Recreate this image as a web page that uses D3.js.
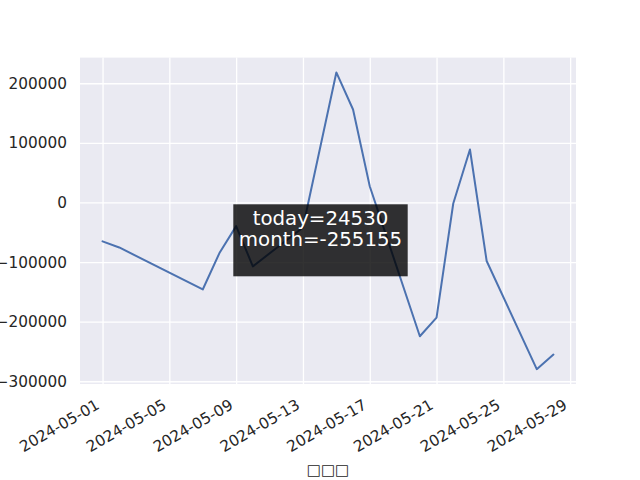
<!DOCTYPE html>
<html>
<head>
<meta charset="utf-8">
<script src="https://cdn.jsdelivr.net/npm/d3@7"></script>
<style>
  body { margin: 0; background: #fff; }
  text { font-family: "DejaVu Sans", sans-serif; }
</style>
</head>
<body>
<script>
const dates = ["2024-05-01","2024-05-02","2024-05-07","2024-05-08","2024-05-09","2024-05-10",
  "2024-05-13","2024-05-15","2024-05-16","2024-05-17","2024-05-20","2024-05-21",
  "2024-05-22","2024-05-23","2024-05-24","2024-05-27","2024-05-28"]
const values = [-65300,-75500,-146000,-84900,-39700,-107200,
  -42100,218100,155900,27200,-224500,-193100,
  -1800,88800,-98200,-279685,-255155]
const xTickLabels = ["2024-05-01","2024-05-05","2024-05-09","2024-05-13","2024-05-17","2024-05-21","2024-05-25","2024-05-29"]
const yTicks = [-300000,-200000,-100000,0,100000,200000]
const noteLines = ["today=24530", "month=-255155"]
const xLabel = "□□□"

const W = 640, H = 480
const m = {left: 80, right: 576, top: 57.6, bottom: 384}

const parse = d3.utcParse("%Y-%m-%d")
const data = dates.map((d, i) => ({date: parse(d), value: values[i]}))

// matplotlib style 5% margins
const xExt = d3.extent(data, d => d.date)
const xPad = (xExt[1] - xExt[0]) * 0.05
const yExt = d3.extent(data, d => d.value)
const yPad = (yExt[1] - yExt[0]) * 0.05

const x = d3.scaleUtc()
  .domain([new Date(+xExt[0] - xPad), new Date(+xExt[1] + xPad)])
  .range([m.left, m.right])

const y = d3.scaleLinear()
  .domain([yExt[0] - yPad, yExt[1] + yPad])
  .range([m.bottom, m.top])

const svg = d3.select("body").append("svg")
  .attr("width", W)
  .attr("height", H)

svg.append("rect")
  .attr("x", m.left).attr("y", m.top)
  .attr("width", m.right - m.left).attr("height", m.bottom - m.top)
  .attr("fill", "#eaeaf2")

const xTicks = xTickLabels.map(parse)

// grid
svg.append("g")
  .attr("transform", `translate(0,${m.bottom})`)
  .call(d3.axisBottom(x).tickValues(xTicks).tickSize(-(m.bottom - m.top)).tickFormat(""))
  .call(g => g.select(".domain").remove())
  .call(g => g.selectAll("line").attr("stroke", "#fff").attr("stroke-width", 1.3))

svg.append("g")
  .attr("transform", `translate(${m.left},0)`)
  .call(d3.axisLeft(y).tickValues(yTicks).tickSize(-(m.right - m.left)).tickFormat(""))
  .call(g => g.select(".domain").remove())
  .call(g => g.selectAll("line").attr("stroke", "#fff").attr("stroke-width", 1.3))

// y tick labels
svg.append("g").selectAll("text")
  .data(yTicks)
  .enter().append("text")
  .attr("x", m.left - 13)
  .attr("y", d => y(d))
  .attr("dy", "0.36em")
  .attr("text-anchor", "end")
  .attr("font-size", "15.3px")
  .attr("fill", "#262626")
  .text(d => d3.format("d")(d))

// x tick labels, rotated 30deg
svg.append("g").selectAll("text")
  .data(xTicks)
  .enter().append("text")
  .attr("transform", d => `translate(${x(d) - 2},${m.bottom + 24}) rotate(-30)`)
  .attr("text-anchor", "end")
  .attr("font-size", "15.3px")
  .attr("fill", "#262626")
  .text(d => d3.utcFormat("%Y-%m-%d")(d))

svg.append("text")
  .attr("x", (m.left + m.right) / 2)
  .attr("y", 475)
  .attr("text-anchor", "middle")
  .attr("font-family", "DejaVu Sans")
  .attr("font-size", "15px")
  .attr("fill", "#262626")
  .text(xLabel)

// line
const line = d3.line()
  .x(d => x(d.date))
  .y(d => y(d.value))

svg.append("path")
  .datum(data)
  .attr("d", line)
  .attr("fill", "none")
  .attr("stroke", "#4c72b0")
  .attr("stroke-width", 2)
  .attr("stroke-linejoin", "round")
  .attr("stroke-linecap", "round")

// annotation box
const note = svg.append("g")
note.append("rect")
  .attr("x", 233.3).attr("y", 204.3)
  .attr("width", 174.4).attr("height", 72)
  .attr("fill", "#000")
  .attr("fill-opacity", 0.8)
note.selectAll("text")
  .data(noteLines)
  .enter().append("text")
  .attr("x", 320.5)
  .attr("y", (d, i) => 224.5 + i * 21.3)
  .attr("text-anchor", "middle")
  .attr("font-size", "19.8px")
  .attr("fill", "#fff")
  .text(d => d)
</script>
</body>
</html>
